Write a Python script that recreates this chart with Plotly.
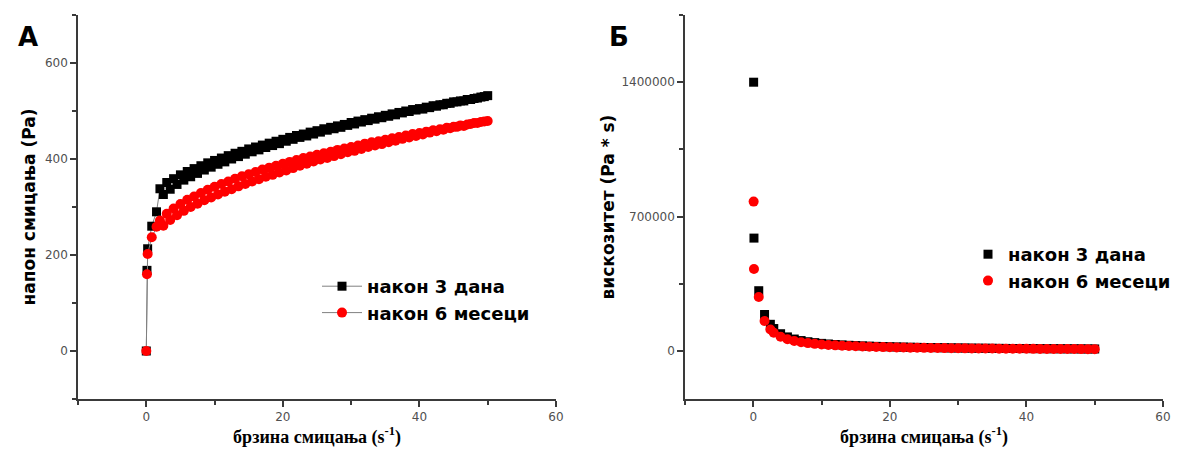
import plotly.graph_objects as go

# ---------------- data ----------------
# shear rate, s^-1 (up ramp and down ramp of the flow loop)
rate_up = [0, 0.1, 0.2, 0.8, 1.5, 2, 3, 4, 5, 6, 7, 8, 9, 10, 11, 12, 13, 14, 15,
           16, 17, 18, 19, 20, 21, 22, 23, 24, 25, 26, 27, 28, 29, 30, 31, 32, 33,
           34, 35, 36, 37, 38, 39, 40, 41, 42, 43, 44, 45, 46, 47, 48, 49, 50]
rate_down = [49.5, 48.5, 47.5, 46.5, 45.5, 44.5, 43.5, 42.5, 41.5, 40.5, 39.5, 38.5,
             37.5, 36.5, 35.5, 34.5, 33.5, 32.5, 31.5, 30.5, 29.5, 28.5, 27.5, 26.5,
             25.5, 24.5, 23.5, 22.5, 21.5, 20.5, 19.5, 18.5, 17.5, 16.5, 15.5, 14.5,
             13.5, 12.5, 11.5, 10.5, 9.5, 8.5, 7.5, 6.5, 5.5, 4.5, 3.5, 2.5]

# shear stress, Pa
stress_3d_up = [0, 168, 213, 260, 290, 338, 351, 359, 367, 374, 380, 386, 392, 397,
                402, 407, 412, 416, 421, 425, 429, 433, 437, 441, 445, 449, 452, 456,
                459, 463, 466, 469, 472, 476, 479, 482, 485, 488, 491, 494, 497, 500,
                503, 505, 508, 511, 513, 516, 519, 521, 524, 526, 529, 532]
stress_3d_down = [530, 527, 524, 521, 519, 516, 513, 510, 507, 504, 502, 499, 496,
                  492, 489, 486, 483, 480, 477, 473, 470, 466, 463, 460, 456, 452,
                  448, 445, 441, 437, 432, 428, 424, 419, 415, 410, 405, 400, 394,
                  389, 383, 377, 370, 363, 356, 347, 337, 326]
stress_6m_up = [0, 160, 202, 237, 259, 272, 286, 297, 306, 315, 322, 329, 336, 342,
                348, 353, 359, 364, 368, 373, 378, 382, 386, 390, 394, 398, 402, 405,
                409, 412, 415, 419, 422, 425, 428, 432, 435, 437, 440, 443, 446, 449,
                452, 454, 457, 460, 462, 465, 467, 470, 472, 475, 477, 479]
stress_6m_down = [478, 475, 473, 469, 467, 464, 461, 458, 455, 451, 448, 445, 442,
                  438, 435, 431, 428, 425, 421, 417, 414, 410, 406, 402, 399, 395,
                  390, 386, 381, 376, 372, 367, 363, 358, 353, 348, 343, 337, 332,
                  326, 320, 314, 307, 300, 292, 283, 273, 261]

# viscosity, Pa*s
rate_visc = [0.05, 0.1, 0.8, 1.65, 2.5, 3, 4, 5, 6, 7, 8, 9, 10, 11, 12, 13, 14, 15,
             16, 17, 18, 19, 20, 21, 22, 23, 24, 25, 26, 27, 28, 29, 30, 31, 32, 33,
             34, 35, 36, 37, 38, 39, 40, 41, 42, 43, 44, 45, 46, 47, 48, 49, 50]
visc_3d = [1400000, 588000, 314000, 190000, 139000, 117000, 90000, 73400, 62300,
           54300, 48250, 43600, 39700, 36500, 33900, 31700, 29700, 28100, 26600,
           25200, 24100, 23000, 22050, 21200, 20400, 19700, 19000, 18400, 17800,
           17300, 16750, 16300, 15900, 15450, 15100, 14700, 14350, 14000, 13700,
           13400, 13200, 12900, 12600, 12400, 12200, 11900, 11700, 11500, 11300,
           11150, 10950, 10800, 10650]
visc_6m = [778000, 427000, 281000, 156000, 112000, 95300, 74250, 61200, 52500,
           46000, 41100, 37300, 34200, 31600, 29400, 27600, 26000, 24500, 23300,
           22200, 21200, 20300, 19500, 18800, 18100, 17500, 16900, 16400, 15800,
           15400, 15000, 14600, 14200, 13800, 13500, 13200, 12900, 12600, 12300,
           12100, 11800, 11600, 11350, 11150, 10950, 10750, 10550, 10400, 10200,
           10050, 9900, 9750, 9600]

series_names = ["након 3 дана", "након 6 месеци"]
x_title = "брзина смицања (s<sup>-1</sup>)"
y_title_left = "напон смицања (Pa)"
y_title_right = "вискозитет (Pa * s)"

# ---------------- styling ----------------
BLACK = "#000000"
RED = "#ff0000"
AXIS = "#3a3a3a"
SANS = "DejaVu Sans, Liberation Sans, Arial, sans-serif"
TICKFONT = dict(family=SANS, size=12, color="#505050")
TITLE_BOLD = dict(family=SANS, size=17, color="#000000", weight="bold")
LEGEND_BOLD = dict(family=SANS, size=18, color="#000000", weight="bold")
SERIF_BOLD = dict(family="Liberation Serif, Times New Roman, serif", size=18,
                  color="#000000", weight="bold")

fig = go.Figure()

# panel A: flow curves (up + down ramp in one trace)
fig.add_trace(go.Scatter(
    x=rate_up + rate_down, y=stress_3d_up + stress_3d_down,
    mode="lines+markers", name=series_names[0],
    line=dict(color="#808080", width=1),
    marker=dict(symbol="square", size=9, color=BLACK, line=dict(width=0)),
    xaxis="x", yaxis="y", legend="legend"))
fig.add_trace(go.Scatter(
    x=rate_up + rate_down, y=stress_6m_up + stress_6m_down,
    mode="lines+markers", name=series_names[1],
    line=dict(color="#808080", width=1),
    marker=dict(symbol="circle", size=10, color=RED, line=dict(width=0)),
    xaxis="x", yaxis="y", legend="legend"))

# panel Б: viscosity curves
fig.add_trace(go.Scatter(
    x=rate_visc, y=visc_3d, mode="markers", name=series_names[0],
    marker=dict(symbol="square", size=9, color=BLACK, line=dict(width=0)),
    xaxis="x2", yaxis="y2", legend="legend2"))
fig.add_trace(go.Scatter(
    x=rate_visc, y=visc_6m, mode="markers", name=series_names[1],
    marker=dict(symbol="circle", size=10, color=RED, line=dict(width=0)),
    xaxis="x2", yaxis="y2", legend="legend2"))

axis_common = dict(
    showgrid=False, zeroline=False, showline=True, linecolor=AXIS, linewidth=1.5,
    ticks="outside", ticklen=6, tickwidth=1.5, tickcolor=AXIS, tickfont=TICKFONT,
    mirror=False,
)
minor_common = dict(ticks="outside", ticklen=4, tickwidth=1.5, tickcolor=AXIS, tick0=0)

W, H = 1181, 453
ML, MR, MT, MB = 78, 18, 15, 54
pw = W - ML - MR
ph = H - MT - MB


def fx(px):
    return (px - ML) / pw


def fy(py):
    return 1 - (py - MT) / ph


fig.update_layout(
    width=W, height=H,
    margin=dict(l=ML, r=MR, t=MT, b=MB, pad=0, autoexpand=False),
    paper_bgcolor="white", plot_bgcolor="white",
    xaxis=dict(axis_common, domain=[0, fx(556)], range=[-10, 60], dtick=20, tick0=0,
               minor=dict(minor_common, dtick=10),
               title=dict(text=x_title, font=SERIF_BOLD, standoff=4), anchor="y"),
    yaxis=dict(axis_common, domain=[0, 1], range=[-100, 700], dtick=200, tick0=0,
               minor=dict(minor_common, dtick=100),
               title=dict(text=y_title_left, font=TITLE_BOLD, standoff=5), anchor="x"),
    xaxis2=dict(axis_common, domain=[fx(685), 1], range=[-10, 60], dtick=20, tick0=0,
                minor=dict(minor_common, dtick=10),
                title=dict(text=x_title, font=SERIF_BOLD, standoff=4), anchor="y2"),
    yaxis2=dict(axis_common, domain=[0, 1], range=[-250000, 1750000], dtick=700000,
                tick0=0, tickformat="d",
                minor=dict(minor_common, dtick=350000),
                title=dict(text=y_title_right, font=TITLE_BOLD, standoff=2), anchor="x2"),
    legend=dict(x=fx(317), y=fy(268), xanchor="left", yanchor="top",
                bgcolor="rgba(0,0,0,0)", font=LEGEND_BOLD, tracegroupgap=0, itemwidth=40),
    legend2=dict(x=fx(968), y=fy(236), xanchor="left", yanchor="top",
                 bgcolor="rgba(0,0,0,0)", font=LEGEND_BOLD, tracegroupgap=0, itemwidth=30),
    showlegend=True,
    annotations=[
        dict(text="<b>A</b>", xref="paper", yref="paper", x=fx(28), y=fy(37),
             xanchor="center", yanchor="middle", showarrow=False,
             font=dict(family=SANS, size=26, color="#000")),
        dict(text="<b>Б</b>", xref="paper", yref="paper", x=fx(619), y=fy(37),
             xanchor="center", yanchor="middle", showarrow=False,
             font=dict(family=SANS, size=26, color="#000")),
    ],
)

fig.write_html("out.html")
